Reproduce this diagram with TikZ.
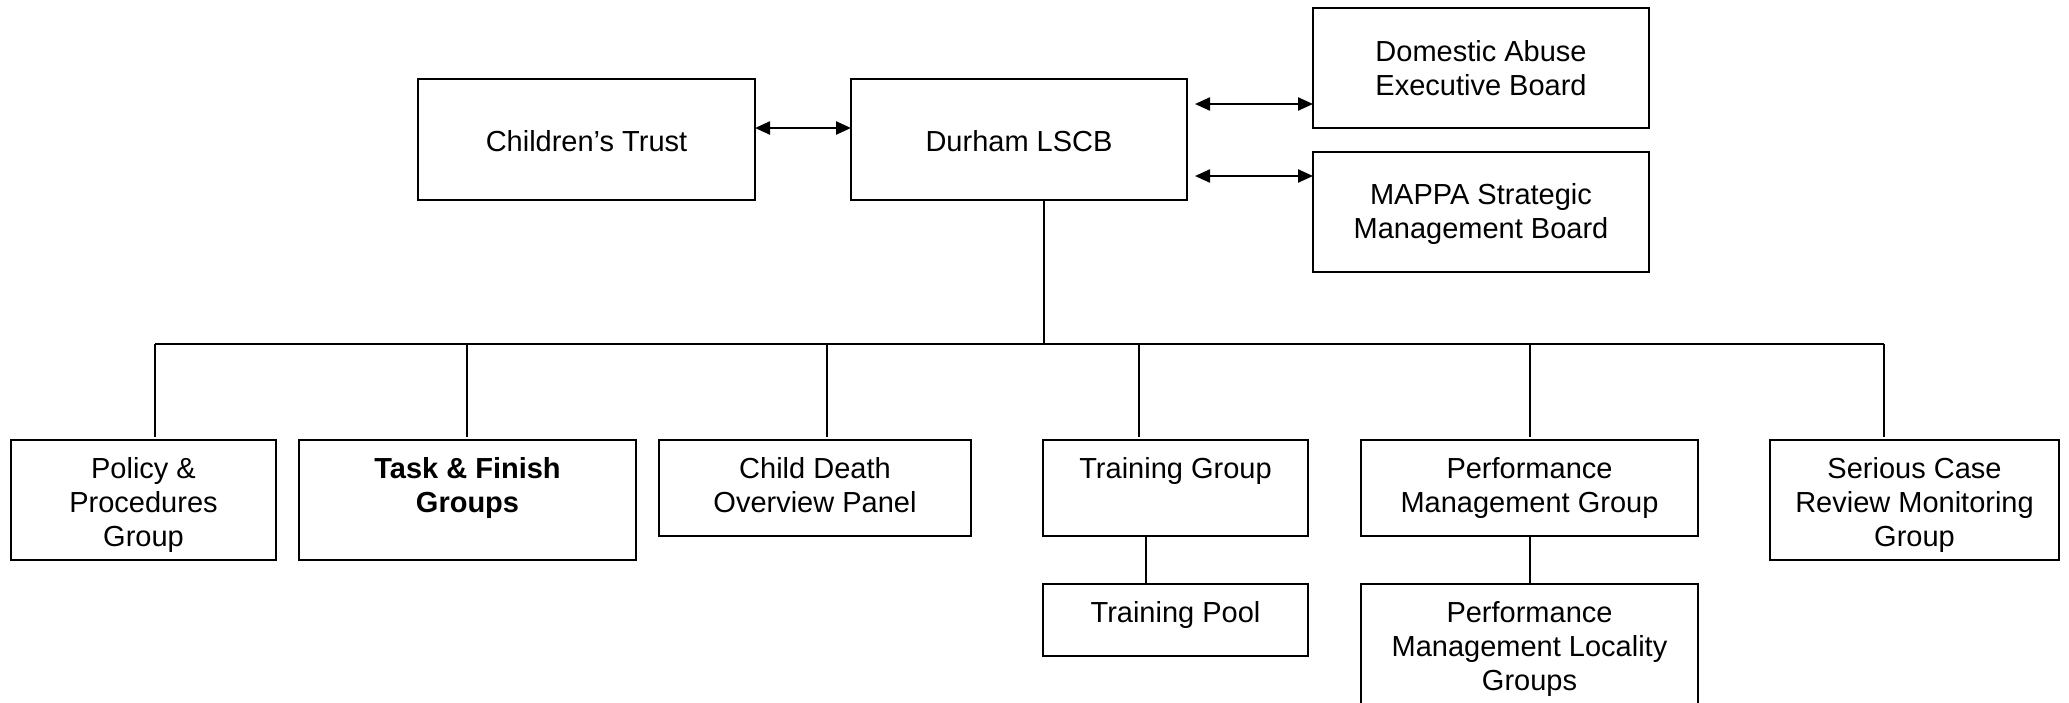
\documentclass[tikz,border=0pt]{standalone}
\usepackage{fontspec}
\setmainfont{Liberation Sans}
\usetikzlibrary{arrows.meta}
\newcommand\boxtxt[4]{\parbox[c][#2][t]{#1}{\centering\vskip #3\relax\strut #4\par}}
\tikzset{
  box/.style={draw, line width=2pt, inner sep=0pt, outer sep=0pt},
  link/.style={line width=1.6pt},
  biarrow/.style={line width=2.4pt, {Triangle[length=15pt,width=13pt]}-{Triangle[length=15pt,width=13pt]}},
}
\begin{document}
\begin{tikzpicture}[x=1pt,y=-1pt, font=\fontsize{29}{34}\selectfont]
\clip (0,0) rectangle (2069,702);
\fill[white] (0,0) rectangle (2069,702);
% top row
\node[box] (ct) at (586.5,139.5) {\boxtxt{337pt}{121pt}{48.2pt}{Children’s Trust}};
\node[box] (dur) at (1019,139.5) {\boxtxt{336pt}{121pt}{48.2pt}{Durham LSCB}};
\node[box] (dom) at (1481,68) {\boxtxt{336pt}{120pt}{29.2pt}{Domestic Abuse\\Executive Board}};
\node[box] (mappa) at (1481,212) {\boxtxt{336pt}{120pt}{28.2pt}{MAPPA Strategic\\Management Board}};
% bottom row
\node[box] (pol) at (143.5,500) {\boxtxt{265pt}{120pt}{14.2pt}{Policy \&\\Procedures\\Group}};
\node[box] (task) at (467.5,500) {\boxtxt{337pt}{120pt}{14.2pt}{\bfseries Task \& Finish\\Groups}};
\node[box] (cdop) at (815,488) {\boxtxt{312pt}{96pt}{14.2pt}{Child Death\\Overview Panel}};
\node[box] (tg) at (1175.5,488) {\boxtxt{265pt}{96pt}{14.2pt}{Training Group}};
\node[box] (tp) at (1175.5,620) {\boxtxt{265pt}{72pt}{14.2pt}{Training Pool}};
\node[box] (pmg) at (1529.5,488) {\boxtxt{337pt}{96pt}{14.2pt}{Performance\\Management Group}};
\node[box] (pml) at (1529.5,648) {\boxtxt{337pt}{128pt}{14.7pt}{Performance\\Management Locality\\Groups}};
\node[box] (scr) at (1914.5,500) {\boxtxt{289pt}{120pt}{14.2pt}{Serious Case\\Review Monitoring\\Group}};
% arrows
\draw[biarrow] (ct.east |- 0,128) -- (dur.west |- 0,128);
\draw[biarrow, shorten <=8pt] (dur.east |- 0,104) -- (dom.west |- 0,104);
\draw[biarrow, shorten <=8pt] (dur.east |- 0,176) -- (mappa.west |- 0,176);
% bus
\coordinate (jdur) at (1044,344);
\coordinate (busL) at (155,344);
\coordinate (busR) at (1884,344);
\draw[link] (dur.south -| jdur) -- (jdur);
\draw[link] (busL) -- (busR);
\foreach \n/\x in {pol/155, task/467, cdop/827, tg/1139, pmg/1530, scr/1884}{
  \coordinate (b-\n) at (\x,344);
  \draw[link, shorten >=3pt] (b-\n) -- (\n.north -| b-\n);
}
\coordinate (jtp) at (1146,0);
\coordinate (jpml) at (1530,0);
\draw[link] (tg.south -| jtp) -- (tp.north -| jtp);
\draw[link] (pmg.south -| jpml) -- (pml.north -| jpml);
\end{tikzpicture}
\end{document}
